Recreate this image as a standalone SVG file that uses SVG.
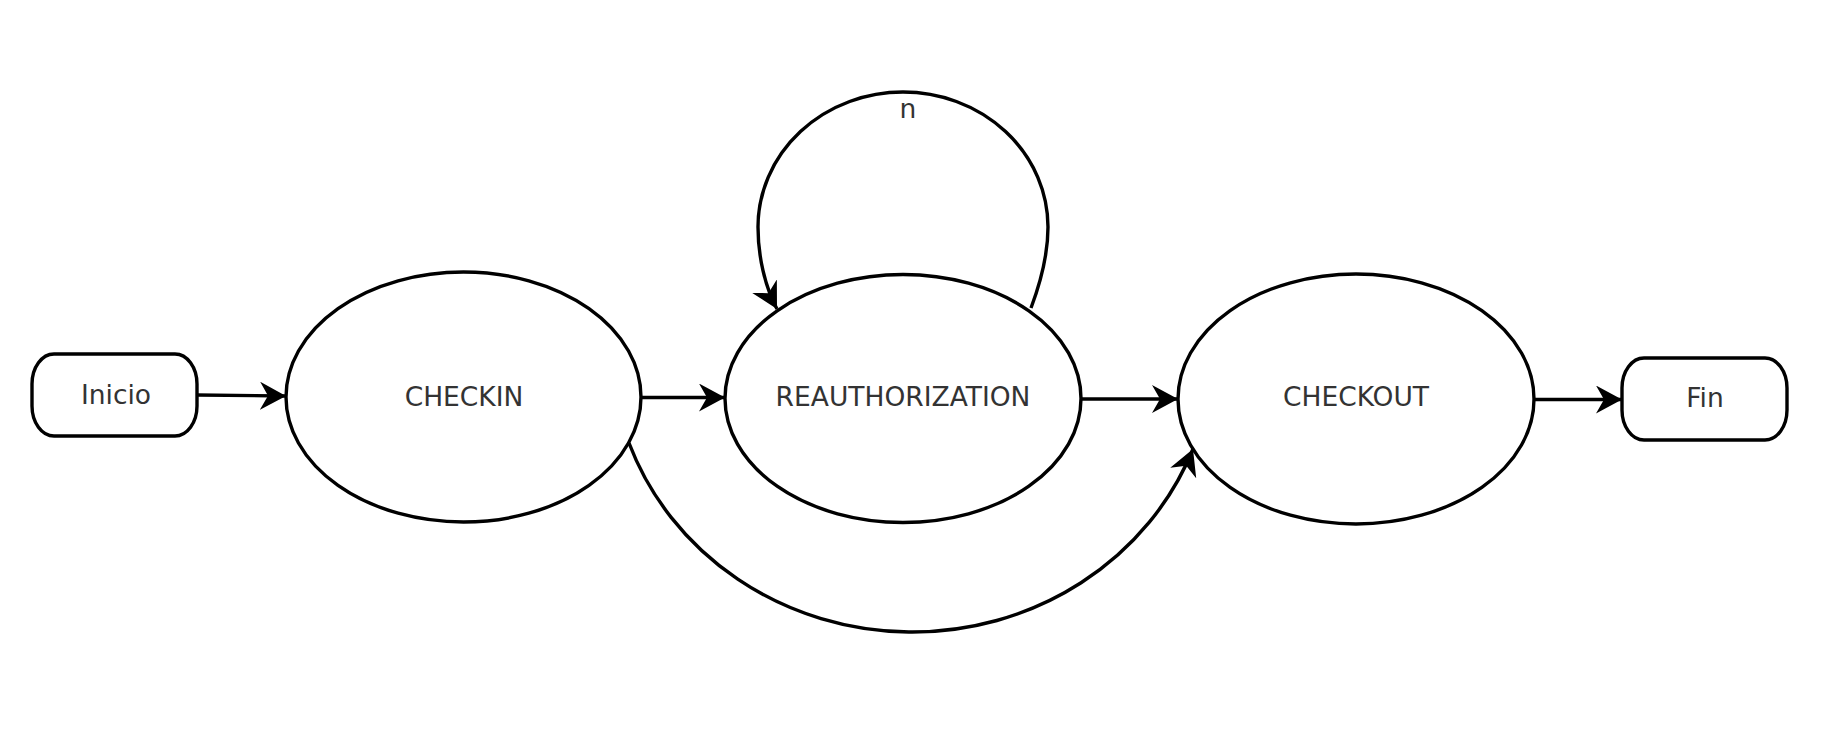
<svg xmlns="http://www.w3.org/2000/svg" width="1838" height="750" viewBox="0 0 1838 750">
<style>
.shape{fill:#ffffff;stroke:#000000;stroke-width:3.4}
.edge{fill:none;stroke:#000000;stroke-width:3.4}
.lbl{font-family:"DejaVu Sans","Liberation Sans",sans-serif;font-size:26.5px;fill:#333333;text-anchor:middle}
</style>
<defs>
<marker id="arrow" markerUnits="userSpaceOnUse" markerWidth="30" markerHeight="30" refX="26" refY="14" orient="auto">
<path d="M0,0 L26,14 L0,28 L8,14 Z" fill="#000000"/>
</marker>
</defs>
<rect width="1838" height="750" fill="#ffffff"/>
<g id="connectors">
<path class="edge" d="M197 395 L286 396" marker-end="url(#arrow)"/>
<path class="edge" d="M641 397.5 L725 397.5" marker-end="url(#arrow)"/>
<path class="edge" d="M1081 399 L1178 399" marker-end="url(#arrow)"/>
<path class="edge" d="M1534 399.5 L1622 399.5" marker-end="url(#arrow)"/>
<path class="edge" d="M629 443 A301 286 0 0 0 1193 449" marker-end="url(#arrow)"/>
<path class="edge" d="M1031 308 C1040 284 1048 256 1048 227 A145 135 0 0 0 758 227 C758 256 765 287 777 309" marker-end="url(#arrow)"/>
<text class="lbl" x="908" y="118">n</text>
</g>
<g id="inicio">
<rect class="shape" x="32" y="354" width="165" height="82" rx="22" ry="30"/>
<text class="lbl" x="116" y="404">Inicio</text>
</g>
<g id="checkin">
<ellipse class="shape" cx="463.5" cy="397" rx="177.5" ry="125"/>
<text class="lbl" x="464" y="406">CHECKIN</text>
</g>
<g id="reauthorization">
<ellipse class="shape" cx="903" cy="398.5" rx="178" ry="124"/>
<text class="lbl" x="903" y="406">REAUTHORIZATION</text>
</g>
<g id="checkout">
<ellipse class="shape" cx="1356" cy="399" rx="178" ry="125"/>
<text class="lbl" x="1356" y="406">CHECKOUT</text>
</g>
<g id="fin">
<rect class="shape" x="1622" y="358" width="165" height="82" rx="22" ry="30"/>
<text class="lbl" x="1705" y="407">Fin</text>
</g>
</svg>
